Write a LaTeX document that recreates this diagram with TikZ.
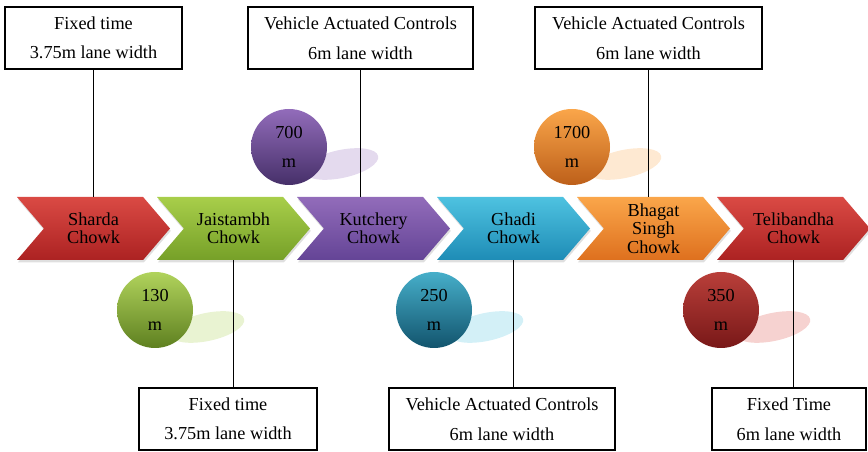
\documentclass[tikz,border=0pt]{standalone}
\usepackage{fontspec}
\setmainfont{Liberation Serif}
\usepackage{xcolor}
\usepackage{tikz}
\usetikzlibrary{shapes.symbols,shapes.geometric,shadows}

\definecolor{redtop}{RGB}{218,74,68}
\definecolor{redbot}{RGB}{172,34,34}
\definecolor{greentop}{RGB}{168,206,74}
\definecolor{greenbot}{RGB}{118,160,40}
\definecolor{purpletop}{RGB}{146,108,186}
\definecolor{purplebot}{RGB}{100,68,150}
\definecolor{cyantop}{RGB}{78,194,224}
\definecolor{cyanbot}{RGB}{30,140,182}
\definecolor{orangetop}{RGB}{250,166,74}
\definecolor{orangebot}{RGB}{222,112,30}

\begin{document}
\begin{tikzpicture}[%
  chev/.style={signal,signal to=east,signal from=west,signal pointer angle=99,
    minimum width=3.825cm,minimum height=1.575cm,inner sep=0pt,align=center,
    font=\fontsize{13}{13}\selectfont,
    drop shadow={opacity=0.25,shadow xshift=0.02cm,shadow yshift=-0.06cm}},
  info/.style={draw=black,line width=1.1pt,fill=white,minimum height=1.55cm,
    align=center,inner sep=0pt,font=\fontsize{13}{21}\selectfont},
  dist/.style={circle,minimum size=1.9cm,inner sep=0pt,align=center,
    font=\fontsize{13}{21}\selectfont,shading angle=45},
  link/.style={draw=black,line width=0.9pt}
]
\useasboundingbox (0,0) rectangle (21.7,-11.3);

\fill[greentop!25, rotate around={12:(5.175,-8.175)}] (5.175,-8.175) ellipse (0.95 and 0.35);
\fill[purpletop!25, rotate around={12:(8.525,-4.1)}] (8.525,-4.1) ellipse (0.95 and 0.35);
\fill[orangetop!25, rotate around={12:(15.6,-4.1)}] (15.6,-4.1) ellipse (0.95 and 0.35);
\fill[cyantop!25, rotate around={12:(12.15,-8.175)}] (12.15,-8.175) ellipse (0.95 and 0.35);
\fill[redtop!25, rotate around={12:(19.325,-8.175)}] (19.325,-8.175) ellipse (0.95 and 0.35);

\node at (3.875, -7.75) [dist,top color=greentop!90,bottom color=greenbot!80!black] (d130) {130\\m};
\node at (7.225, -3.675) [dist,top color=purpletop,bottom color=purplebot!70!black] (d700) {700\\m};
\node at (14.3, -3.675) [dist,top color=orangetop,bottom color=orangebot!85!black] (d1700) {1700\\m};
\node at (10.85, -7.75) [dist,top color=cyantop!90!black,bottom color=cyanbot!60!black] (d250) {250\\m};
\node at (18.025, -7.75) [dist,top color=redtop!85!black,bottom color=redbot!70!black] (d350) {350\\m};

\node at (2.3375, -5.7125) [chev,top color=redtop,bottom color=redbot] (sharda) {Sharda\\Chowk};
\node at (5.8375, -5.7125) [chev,top color=greentop,bottom color=greenbot] (jai) {Jaistambh\\Chowk};
\node at (9.3375, -5.7125) [chev,top color=purpletop,bottom color=purplebot] (kut) {Kutchery\\Chowk};
\node at (12.8375, -5.7125) [chev,top color=cyantop,bottom color=cyanbot] (ghadi) {Ghadi\\Chowk};
\node at (16.3375, -5.7125) [chev,top color=orangetop,bottom color=orangebot] (bhagat) {Bhagat\\Singh\\Chowk};
\node at (19.8375, -5.7125) [chev,top color=redtop,bottom color=redbot] (teli) {Telibandha\\Chowk};

\node at (2.3375, -0.95) [info,minimum width=4.425cm] (t1) {Fixed time\\3.75m lane width};
\node at (9.0125, -0.95) [info,minimum width=5.625cm] (t2) {Vehicle Actuated Controls\\6m lane width};
\node at (16.2125, -0.95) [info,minimum width=5.675cm] (t3) {Vehicle Actuated Controls\\6m lane width};
\node at (5.7, -10.475) [info,minimum width=4.45cm] (b1) {Fixed time\\3.75m lane width};
\node at (12.55, -10.475) [info,minimum width=5.65cm] (b2) {Vehicle Actuated Controls\\6m lane width};
\node at (19.725, -10.475) [info,minimum width=3.85cm] (b3) {Fixed Time\\6m lane width};

\draw[link] (t1.south) -- (t1.south |- sharda.north);
\draw[link] (t2.south) -- (t2.south |- kut.north);
\draw[link] (t3.south) -- (t3.south |- bhagat.north);
\draw[link] (jai.south) -- (jai.south |- b1.north);
\draw[link] (ghadi.south) -- (ghadi.south |- b2.north);
\draw[link] (teli.south) -- (teli.south |- b3.north);
\end{tikzpicture}
\end{document}
